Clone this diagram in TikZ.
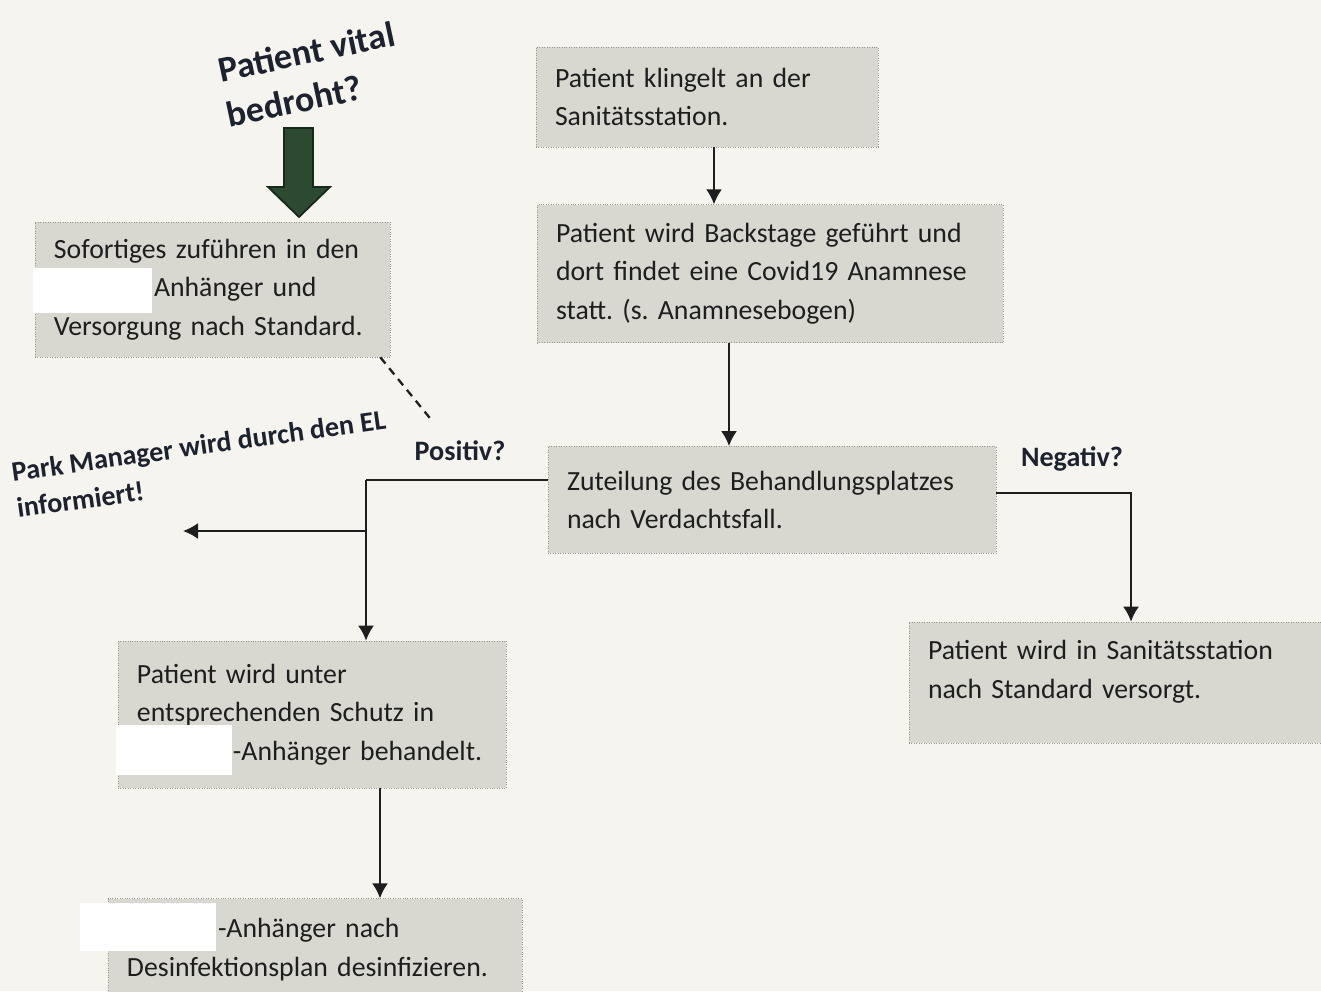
\documentclass[tikz,border=0pt]{standalone}
\usepackage{fontspec}
\setmainfont{Carlito}
\usepackage{xcolor}
\usepackage{tikz}
\usetikzlibrary{arrows.meta}
\usetikzlibrary{positioning}
\frenchspacing

\definecolor{paper}{HTML}{F6F4EE}
\definecolor{boxgrey}{HTML}{D8D8D0}
\definecolor{boxedge}{HTML}{9A9A92}
\definecolor{ink}{HTML}{1E1E1E}
\definecolor{titleink}{HTML}{1C2230}
\definecolor{vitalgreen}{HTML}{2B4A30}
\definecolor{vitaledge}{HTML}{16281A}

\tikzset{flow-line/.style={line width=1.1pt, draw=ink}}
\tikzset{>={Latex[length=3mm, width=3.2mm]}}
\tikzset{flow-box/.style={draw=boxedge, densely dotted, line width=0.4pt, fill=boxgrey, inner xsep=3.8mm, inner ysep=0, align=left, text=ink, font=\fontsize{15.8}{22}\selectfont}}
\tikzset{flow-label/.style={inner sep=0, text=titleink, font=\bfseries\fontsize{16}{21}\selectfont}}
\tikzset{flow-patch/.style={fill=white}}
\tikzset{flow-dash/.style={line width=1.3pt, draw=ink, dash pattern=on 1.6mm off 1.2mm}}

\begin{document}
\begin{tikzpicture}[x=0.2mm, y=-0.2mm]
            \fill[paper] (0,0) rectangle (1321,991);
            \useasboundingbox (0,0) rectangle (1321,991);

            \node[flow-box, text width=60.8mm, minimum height=20mm] (node1) at (707,97) {Patient klingelt an der\\Sanitätsstation.};
            \node[flow-box, text width=85.6mm, minimum height=27.6mm, below=11.4mm of node1, xshift=12.6mm] (node2) {Patient wird Backstage geführt und\\dort findet eine Covid19 Anamnese\\statt. (s. Anamnesebogen)};
            \node[flow-box, text width=82mm, minimum height=21.4mm, below=20.6mm of node2, xshift=0.4mm] (node3) {Zuteilung des Behandlungsplatzes\\nach Verdachtsfall.};

            \node[flow-box, text width=63.4mm, minimum height=27mm] (node4) at (212.5,289.5) {Sofortiges zuführen in den\\\hspace*{20mm}Anhänger und\\Versorgung nach Standard.};
            \node[flow-box, text width=70mm, minimum height=29.4mm] (node5) at (312,714.5) {Patient wird unter\\entsprechenden Schutz in\\\hspace*{19.2mm}-Anhänger behandelt.};
            \node[flow-box, text width=75.2mm, minimum height=20.4mm, below=22mm of node5, xshift=0.6mm] (node6) {\hspace*{18.2mm}-Anhänger nach\\Desinfektionsplan desinfizieren.};
            \node[flow-box, text width=76.6mm, minimum height=24.2mm, text depth=13mm] (node7) at (1119.5,682.5) {Patient wird in Sanitätsstation\\nach Standard versorgt.};

            % geschwaerzte Stellen
            \fill[flow-patch] (33,268) rectangle (152,313);
            \fill[flow-patch] (116,725) rectangle (232,775);
            \fill[flow-patch] (80,903) rectangle (216,951);

            \node[flow-label, font=\bfseries\fontsize{20.5}{26}\selectfont, align=center, rotate=12] (vital) at (311,74) {Patient vital\\bedroht?\hspace*{8.8mm}};
            \node[flow-label, align=left, rotate=8, anchor=west] (park) at (14,490) {Park Manager wird durch den EL\\informiert!};
            \node[flow-label] (positiv) at (460,451) {Positiv?};
            \node[flow-label] (negativ) at (1072,459) {Negativ?};

            \filldraw[fill=vitalgreen, draw=vitaledge, line width=1pt] (284,128) -- (313,128) -- (313,187) -- (330,187) -- (299,217) -- (268,187) -- (284,187) -- cycle;

            \draw[->, flow-line] (node1.south -| 714,0) -- (node2.north -| 714,0);
            \draw[->, flow-line] (node2.south -| 729,0) -- (node3.north -| 729,0);

            \coordinate (pos-split) at (366,480);
            \coordinate (park-end) at (183,531);
            \draw[flow-line] (node3.west |- pos-split) -- (pos-split);
            \draw[->, flow-line] (pos-split) -- (pos-split |- node5.north);
            \draw[->, flow-line] (pos-split |- park-end) -- (park-end);

            \coordinate (neg-split) at (1131,493);
            \draw[->, flow-line] (node3.east |- neg-split) -| (neg-split |- node7.north);

            \draw[->, flow-line] (node5.south -| 380,0) -- (node6.north -| 380,0);

            \draw[flow-dash] ([xshift=-2mm]node4.south east) -- ([shift={(16,-22)}]positiv.north west);
        \end{tikzpicture}
\end{document}
